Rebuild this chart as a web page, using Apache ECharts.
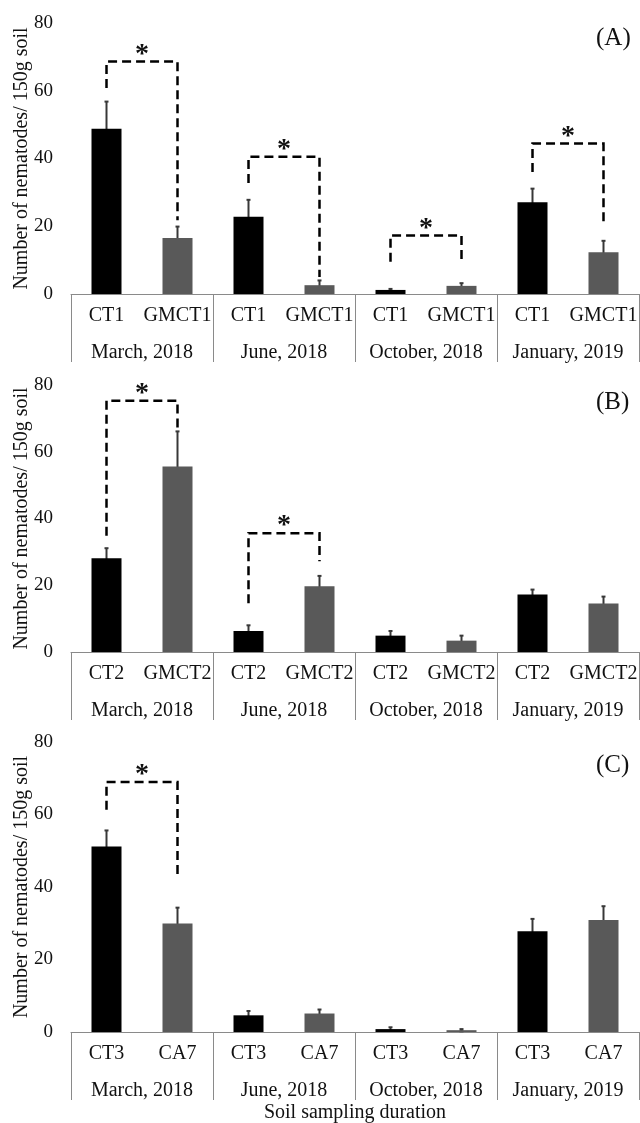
<!DOCTYPE html>
<html>
<head>
<meta charset="utf-8">
<script src="https://cdn.jsdelivr.net/npm/echarts@6/dist/echarts.min.js"></script>
<style>
  html, body { margin: 0; padding: 0; background: #fff; }
  #chart { width: 640px; height: 1123px; }
</style>
</head>
<body>
<div id="chart"></div>
<script>
// sampling dates (outer axis level)
var groups = ['March, 2018', 'June, 2018', 'October, 2018', 'January, 2019'];
var yTicks = [0, 20, 40, 60, 80];

// panel A
var treatA = ['CT1', 'GMCT1'];
var ctA = [48.8, 22.8, 1.2, 27.1];
var ctErrA = [8.0, 5.0, 0.3, 4.0];
var gmA = [16.5, 2.6, 2.4, 12.3];
var gmErrA = [3.4, 1.4, 0.8, 3.4];
// bracket: [left cat, right cat, top, left leg end, right leg end]
var sigA = [[0, 1, 68.6, 60.8, 21.8], [2, 3, 40.5, 32.8, 5.0], [4, 5, 17.3, 9.5, 9.1], [6, 7, 44.4, 36.0, 21.3]];

// panel B
var treatB = ['CT2', 'GMCT2'];
var ctB = [28.1, 6.3, 4.9, 17.2];
var ctErrB = [3.0, 1.7, 1.4, 1.5];
var gmB = [55.6, 19.7, 3.4, 14.5];
var gmErrB = [10.5, 3.1, 1.5, 2.1];
var sigB = [[0, 1, 75.3, 34.8, 67.0], [2, 3, 35.6, 14.6, 27.2]];

// panel C
var treatC = ['CT3', 'CA7'];
var ctC = [51.2, 4.6, 0.8, 27.8];
var ctErrC = [4.4, 1.2, 0.5, 3.4];
var gmC = [29.9, 5.1, 0.5, 30.9];
var gmErrC = [4.4, 1.1, 0.3, 3.8];
var sigC = [[0, 1, 69.0, 61.3, 42.5]];

var FONT = '"Liberation Serif", "Times New Roman", serif';
var panels = [
    {tag: '(A)', tagTop: 21, treat: treatA, ct: ctA, ctErr: ctErrA, gm: gmA, gmErr: gmErrA, sig: sigA, top: 23, height: 271},
    {tag: '(B)', tagTop: 385, treat: treatB, ct: ctB, ctErr: ctErrB, gm: gmB, gmErr: gmErrB, sig: sigB, top: 385, height: 267},
    {tag: '(C)', tagTop: 748, treat: treatC, ct: ctC, ctErr: ctErrC, gm: gmC, gmErr: gmErrC, sig: sigC, top: 742, height: 290}
];

var grid = [], xAxis = [], yAxis = [], series = [], title = [];

panels.forEach(function (p, i) {
    grid.push({left: 71, right: 1, top: p.top, height: p.height, outerBoundsMode: 'none'});

    // inner level: treatment names
    var cats = [];
    groups.forEach(function () { cats.push(p.treat[0], p.treat[1]); });
    xAxis.push({
        type: 'category', gridIndex: i, data: cats, position: 'bottom',
        axisLine: {lineStyle: {color: '#8a8a8a', width: 1}},
        axisTick: {show: false},
        axisLabel: {color: '#111', fontFamily: FONT, fontSize: 20, margin: 12, interval: 0}
    });
    // outer level: sampling dates, with the divider ticks
    xAxis.push({
        type: 'category', gridIndex: i, data: groups, position: 'bottom',
        axisLine: {show: false},
        axisTick: {show: true, length: 68, lineStyle: {color: '#8a8a8a', width: 1}},
        axisLabel: {color: '#111', fontFamily: FONT, fontSize: 20, margin: 49, interval: 0},
        name: i === 2 ? 'Soil sampling duration' : '',
        nameLocation: 'middle', nameGap: 71, nameMoveOverlap: false,
        nameTextStyle: {color: '#111', fontFamily: FONT, fontSize: 20}
    });
    yAxis.push({
        type: 'value', gridIndex: i, min: yTicks[0], max: yTicks[yTicks.length - 1], interval: 20,
        axisLine: {show: false}, axisTick: {show: false}, splitLine: {show: false},
        axisLabel: {color: '#111', fontFamily: FONT, fontSize: 19, margin: 18},
        name: 'Number of nematodes/ 150g soil', nameLocation: 'middle', nameGap: 39, nameMoveOverlap: false,
        nameTextStyle: {color: '#111', fontFamily: FONT, fontSize: 20}
    });

    var bars = [], errs = [];
    for (var g = 0; g < groups.length; g++) {
        bars.push({value: p.ct[g], itemStyle: {color: '#000'}});
        bars.push({value: p.gm[g], itemStyle: {color: '#595959'}});
        errs.push([g * 2, p.ct[g], p.ctErr[g]]);
        errs.push([g * 2 + 1, p.gm[g], p.gmErr[g]]);
    }
    series.push({
        type: 'bar', xAxisIndex: i * 2, yAxisIndex: i, data: bars, barWidth: 30,
        silent: true, animation: false
    });
    series.push({
        type: 'custom', xAxisIndex: i * 2, yAxisIndex: i, data: errs, animation: false, silent: true,
        renderItem: function (params, api) {
            var x = api.value(0), v = api.value(1), e = api.value(2);
            var hi = api.coord([x, v + e]), lo = api.coord([x, v - e]);
            var st = {stroke: '#383838', lineWidth: 2};
            return {type: 'group', children: [
                {type: 'line', shape: {x1: hi[0], y1: hi[1], x2: lo[0], y2: lo[1]}, style: st},
                {type: 'line', shape: {x1: hi[0] - 2, y1: hi[1], x2: hi[0] + 2, y2: hi[1]}, style: st},
                {type: 'line', shape: {x1: lo[0] - 2, y1: lo[1], x2: lo[0] + 2, y2: lo[1]}, style: st}
            ]};
        }
    });
    // significance brackets
    series.push({
        type: 'custom', xAxisIndex: i * 2, yAxisIndex: i, data: p.sig, animation: false, silent: true,
        renderItem: function (params, api) {
            var l = api.value(0), r = api.value(1), t = api.value(2);
            var a = api.coord([l, api.value(3)]), b = api.coord([l, t]);
            var c = api.coord([r, t]), d = api.coord([r, api.value(4)]);
            return {type: 'group', children: [
                {type: 'polyline', shape: {points: [a, b, c, d]},
                    style: {fill: 'none', stroke: '#000', lineWidth: 2.5, lineDash: [9, 5]}},
                {type: 'text', x: (b[0] + c[0]) / 2, y: b[1] + 7,
                    style: {text: '*', fill: '#111', font: 'bold 28px ' + FONT, align: 'center', verticalAlign: 'bottom'}}
            ]};
        }
    });

    title.push({
        text: p.tag, left: 591, top: p.tagTop,
        textStyle: {color: '#111', fontFamily: FONT, fontSize: 25, fontWeight: 'normal'}
    });
});

var chart = echarts.init(document.getElementById('chart'));
chart.setOption({
    animation: false,
    title: title,
    grid: grid,
    xAxis: xAxis,
    yAxis: yAxis,
    series: series
});
</script>
</body>
</html>
